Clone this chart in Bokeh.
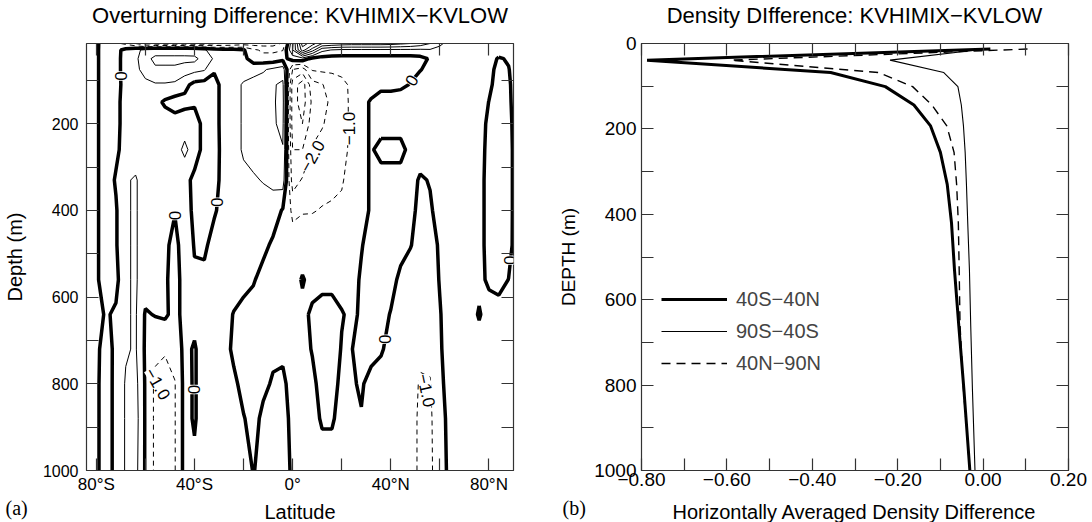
import numpy as np
from bokeh.plotting import figure
from bokeh.layouts import row, column
from bokeh.models import (FixedTicker, LinearAxis, CustomJSTickFormatter, Label, LabelSet,
                          ColumnDataSource, Legend, LegendItem, Range1d)
from bokeh.core.properties import value
from bokeh.embed import file_html
from bokeh.resources import INLINE

# ---------------- panel (a): overturning streamfunction difference ----------------
lat = [-84, -80, -76, -72, -68, -64, -60, -56, -52, -48, -44, -40, -36, -32, -28, -24, -20, -16,
       -12, -8, -4, 0, 4, 8, 12, 16, 20, 24, 28, 32, 36, 40, 44, 48, 52, 56, 60, 64, 68, 72,
       76, 80, 84, 88, 90]
depth = [15, 30, 50, 75, 110, 150, 200, 260, 330, 400, 480, 560, 640, 720, 800, 880, 1000]

psi_diff = [
    # 15 m
    [0.5, 0.2, -0.6, -0.8, -1.2, -2.0, -3.0, -3.5, -3.5, -3.5,
     -3.5, -3.5, -3.5, -3.2, -3.0, -2.8, -2.5, -2.5, -2.5, -2.5,
     -1.8, 1.8, 6.5, 5.5, 4.0, 3.8, 3.6, 3.5, 3.5, 3.5,
     3.5, 3.4, 3.2, 3.0, 2.6, 2.0, 1.2, 0.6, 0.5, 0.4,
     0.4, 0.4, 0.4, 0.4, 0.4],
    # 30 m
    [0.5, 0.15, -0.5, -0.3, 0.3, 0.8, 1.2, 1.4, 1.4, 1.4,
     1.4, 1.3, 1.1, 0.6, 0.4, 0.3, 0.1, -0.8, -1.2, -1.2,
     -1.05, 2.0, 5.5, 3.5, 1.3, 0.95, 0.8, 0.8, 0.8, 0.8,
     0.8, 0.8, 0.8, 0.8, 0.8, 0.9, 0.7, 0.5, 0.5, 0.5,
     0.5, 0.5, 0.5, 0.5, 0.5],
    # 50 m
    [0.5, 0.15, -0.5, -0.3, 0.35, 0.8, 1.6, 2.3, 2.3, 2.3,
     2.3, 2.3, 1.5, 0.9, 0.6, 0.4, 0.3, -0.5, -0.6, -0.6,
     -0.3, 0.4, 0.6, -0.3, -0.4, -0.4, -0.4, -0.4, -0.4, -0.4,
     -0.4, -0.4, -0.4, -0.4, -0.3, 0.1, 0.4, 0.5, 0.5, 0.5,
     0.5, 0.4, -0.1, 0.1, 0.4],
    # 75 m
    [0.5, 0.15, -0.5, -0.3, 0.35, 0.8, 1.3, 1.8, 1.8, 1.8,
     1.5, 1.3, 1.1, 0.1, 0.5, 0.5, 0.6, 0.7, 0.9, 1.2,
     1.5, -2.0, -2.5, -0.9, -0.8, -0.8, -0.7, -0.5, -0.4, -0.4,
     -0.4, -0.4, -0.4, -0.3, -0.05, 0.3, 0.5, 0.5, 0.5, 0.5,
     0.5, 0.3, -0.3, -0.05, 0.3],
    # 110 m
    [0.5, 0.15, -0.5, -0.3, 0.3, 0.5, 0.8, 0.9, 0.9, 0.8,
     0.3, -0.3, -0.4, -0.3, 0.3, 0.7, 1.1, 1.3, 1.4, 1.9,
     2.2, -3.5, -4.5, -2.4, -2.05, -1.6, -1.3, -0.8, -0.5, -0.4,
     -0.3, -0.3, -0.2, 0.05, 0.5, 0.5, 0.5, 0.5, 0.5, 0.5,
     0.5, 0.2, -0.4, -0.2, 0.3],
    # 150 m
    [0.5, 0.15, -0.5, -0.25, 0.35, 0.5, 0.5, 0.3, -0.15, -0.4,
     -0.3, -0.1, -0.3, -0.3, 0.3, 0.7, 1.1, 1.3, 1.5, 1.9,
     2.3, -3.5, -4.5, -2.8, -2.3, -1.8, -1.4, -0.8, -0.3, 0.1,
     0.5, 0.5, 0.5, 0.5, 0.5, 0.5, 0.5, 0.5, 0.5, 0.5,
     0.5, -0.02, -0.4, -0.3, 0.3],
    # 200 m
    [0.5, 0.15, -0.5, -0.25, 0.35, 0.5, 0.5, 0.5, 0.5, 0.4,
     0.6, 0.3, -0.2, -0.3, 0.3, 0.7, 1.1, 1.3, 1.5, 1.9,
     2.2, -3.5, -4.0, -2.5, -2.1, -1.6, -1.4, -0.8, -0.3, 0.1,
     0.4, 0.4, 0.4, 0.5, 0.5, 0.5, 0.5, 0.5, 0.5, 0.5,
     0.4, -0.2, -0.5, -0.4, 0.2],
    # 260 m
    [0.5, 0.15, -0.5, -0.2, 0.4, 0.5, 0.5, 0.5, 0.5, 0.6,
     1.2, 0.6, -0.4, -0.35, 0.3, 0.7, 1.1, 1.3, 1.4, 1.7,
     1.95, -3.0, -3.0, -1.9, -1.6, -1.4, -1.3, -0.8, -0.3, 0.1,
     -0.3, -0.3, -0.3, 0.3, 0.4, 0.5, 0.5, 0.5, 0.5, 0.5,
     0.4, -0.3, -0.5, -0.5, 0.15],
    # 330 m
    [0.5, 0.15, -0.5, 0.1, 0.9, 1.1, 0.5, 0.5, 0.5, 0.5,
     0.4, -0.3, -0.4, -0.3, 0.3, 0.6, 0.8, 0.9, 1.05, 1.2,
     1.5, -2.5, -1.9, -1.5, -1.3, -1.2, -1.1, -0.6, -0.3, 0.1,
     0.4, 0.4, 0.4, 0.3, -0.1, 0.05, 0.4, 0.5, 0.5, 0.5,
     0.3, -0.3, -0.5, -0.5, 0.15],
    # 400 m
    [0.5, 0.15, -0.5, -0.1, 0.9, 1.1, 0.5, 0.5, 0.5, 0.05,
     0.4, -0.2, -0.3, -0.1, 0.3, 0.5, 0.5, 0.5, 0.6, 0.6,
     -0.1, -1.2, -1.05, -1.05, -0.95, -0.9, -0.8, -0.5, -0.3, 0.1,
     0.4, 0.4, 0.4, 0.3, -0.3, -0.1, 0.3, 0.5, 0.5, 0.5,
     0.3, -0.3, -0.5, -0.5, 0.15],
    # 480 m
    [0.5, 0.15, -0.5, -0.1, 0.9, 1.1, 0.5, 0.5, 0.2, -0.3,
     0.5, -0.05, -0.15, 0.3, 0.5, 0.5, 0.5, 0.5, 0.3, -0.2,
     -0.4, -0.6, -0.6, -0.5, -0.5, -0.5, -0.5, -0.4, -0.05, 0.3,
     0.4, 0.4, 0.3, 0.05, -0.4, -0.3, 0.1, 0.5, 0.5, 0.5,
     0.3, -0.3, -0.5, -0.4, 0.15],
    # 560 m
    [0.5, 0.15, -0.5, -0.3, 0.9, 1.1, 0.5, 0.5, 0.15, -0.4,
     0.4, 0.1, 0.2, 0.5, 0.5, 0.5, 0.4, 0.1, -0.4, -0.5,
     -0.5, -0.5, 0.1, -0.4, -0.3, -0.3, -0.3, -0.3, 0.1, 0.4,
     0.4, 0.3, -0.2, -0.5, -0.5, -0.4, 0.05, 0.5, 0.5, 0.5,
     0.3, -0.2, -0.4, 0.02, 0.2],
    # 640 m
    [0.5, 0.3, -0.1, 0.15, 0.9, 1.1, -0.1, 0.05, 0.15, -0.3,
     0.3, 0.3, 0.5, 0.5, 0.4, -0.05, -0.4, -0.5, -0.5, -0.5,
     -0.5, -0.5, -0.3, 0.2, 0.4, 0.4, 0.05, -0.15, 0.1, 0.4,
     0.3, -0.05, -0.4, -0.4, -0.5, -0.5, -0.05, 0.4, 0.5, 0.5,
     -0.1, 0.5, 0.5, 0.5, 0.5],
    # 720 m
    [0.5, 0.15, -0.3, 0.18, 0.9, 1.1, -0.15, -0.8, -0.9, -0.6,
     0.25, -0.1, 0.5, 0.5, 0.4, -0.2, -0.4, -0.4, -0.4, -0.2,
     -0.15, -0.3, -0.3, 0.05, 0.4, 0.4, -0.05, -0.02, 0.2, 0.3,
     0.1, -0.3, -0.4, -0.5, -0.8, -0.8, -0.1, 0.4, 0.5, 0.5,
     0.5, 0.5, 0.5, 0.5, 0.5],
    # 800 m
    [0.5, 0.15, -0.4, 0.25, 1.1, 1.3, -0.1, -1.2, -1.4, -1.05,
     0.3, -0.1, 0.5, 0.5, 0.5, 0.2, -0.3, -0.4, -0.2, 0.1,
     0.15, -0.3, -0.4, -0.2, 0.3, 0.3, -0.2, -0.1, 0.1, -0.3,
     -0.4, -0.4, -0.5, -0.6, -1.1, -1.05, -0.3, 0.5, 0.5, 0.5,
     0.5, 0.5, 0.5, 0.5, 0.5],
    # 880 m
    [0.5, 0.15, -0.4, 0.25, 1.1, 1.4, -0.1, -1.2, -1.4, -1.05,
     0.3, -0.1, 0.5, 0.5, 0.5, 0.4, 0.05, -0.3, 0.2, 0.4,
     0.4, -0.3, -0.4, -0.3, 0.1, 0.1, -0.3, -0.3, -0.05, -0.4,
     -0.4, -0.4, -0.5, -0.6, -1.2, -1.15, -0.4, 0.3, 0.5, 0.5,
     0.5, 0.5, 0.5, 0.5, 0.5],
    # 1000 m
    [0.5, 0.15, -0.4, 0.25, 1.1, 1.3, -0.1, -1.2, -1.4, -1.05,
     0.3, 0.2, 0.5, 0.5, 0.5, 0.5, 0.3, -0.03, 0.2, 0.4,
     0.4, -0.15, -0.4, -0.4, -0.4, -0.4, -0.4, -0.4, -0.4, -0.4,
     -0.4, -0.4, -0.5, -0.6, -1.2, -1.2, -0.4, 0.2, 0.5, 0.5,
     0.5, 0.5, 0.5, 0.5, 0.5],
]
for r in psi_diff:
    assert len(r) == len(lat), len(r)
assert len(psi_diff) == len(depth)

neg_levels = [-6, -5, -4, -3, -2, -1]
zero_level = [0]
pos_levels = [1, 2, 3, 4, 5, 6]

# contour labels (text, latitude, depth, angle in degrees)
clab_text = ["0", "0", "0", "0", "0", "0", "0", "\u22121.0", "\u22122.0", "\u22121.0", "\u22121.0"]
clab_lat = [-69.9, -31.0, -47.8, 48.5, 37.8, -40.2, 88.7, -55.0, 8.0, 22.8, 54.5]
clab_depth = [90, 381, 412, 100, 697, 813, 515, 800, 275, 211, 815]
clab_angle = [90, 90, 90, 60, 90, 90, 90, -60, 61, 90, -78]

lat_ticks = [-80, -60, -40, -20, 0, 20, 40, 60, 80]
lat_tick_labels = ["80\u00b0S", "", "40\u00b0S", "", "0\u00b0", "", "40\u00b0N", "", "80\u00b0N"]
depth_ticks = [100, 200, 300, 400, 500, 600, 700, 800, 900, 1000]
depth_tick_labels = ["", "200", "", "400", "", "600", "", "800", "", "1000"]

# ---------------- panel (b): horizontally averaged density difference ----------------
prof_depth = [13, 39, 68, 101, 144, 193, 255, 330, 420, 530, 660, 810, 1000]
rho_40S_40N = [0.017, -0.787, -0.357, -0.229, -0.162, -0.123, -0.100, -0.084, -0.074, -0.067, -0.057, -0.045, -0.031]
rho_90S_40S = [0.005, -0.218, -0.092, -0.059, -0.051, -0.046, -0.042, -0.039, -0.036, -0.032, -0.029, -0.025, -0.019]
rho_40N_90N = [0.104, -0.590, -0.245, -0.165, -0.120, -0.085, -0.068, -0.062, -0.058, -0.056, -0.054, -0.046, -0.031]
series_names = ["40S\u221240N", "90S\u221240S", "40N\u221290N"]

rho_ticks = [-0.8, -0.7, -0.6, -0.5, -0.4, -0.3, -0.2, -0.1, 0.0, 0.1, 0.2]
rho_tick_labels = ["\u22120.80", "", "\u22120.60", "", "\u22120.40", "", "\u22120.20", "", "0.00", "", "0.20"]
pdepth_ticks = [0, 100, 200, 300, 400, 500, 600, 700, 800, 900, 1000]
pdepth_tick_labels = ["0", "", "200", "", "400", "", "600", "", "800", "", "1000"]

titles = ["Overturning Difference: KVHIMIX\u2212KVLOW", "Density DIfference: KVHIMIX\u2212KVLOW"]
x_titles = ["Latitude", "Horizontally Averaged Density Difference"]
y_titles = ["Depth (m)", "DEPTH (m)"]
panel_tags = ["(a)", "(b)"]

FONT = "Liberation Sans"
AX = "#333333"
EMPTY = CustomJSTickFormatter(code="return '';")
W = 1092
TOP_H = 30
BOT_H = 25


def style_axis(ax, size):
    ax.major_tick_in = 12
    ax.major_tick_out = 0
    ax.minor_tick_in = 0
    ax.minor_tick_out = 0
    ax.axis_line_color = AX
    ax.axis_line_width = 1.2
    ax.major_tick_line_color = AX
    ax.major_tick_line_width = 1.2
    ax.major_label_text_font = FONT
    ax.major_label_text_font_size = size
    ax.major_label_text_color = "black"
    ax.axis_label_text_font = FONT
    ax.axis_label_text_font_style = "normal"
    ax.axis_label_text_color = "black"


def make_fig(xr, yr, left, right):
    p = figure(frame_width=427, frame_height=427, x_range=xr, y_range=yr,
               output_backend="svg", toolbar_location=None, title_location=None,
               min_border_left=left, min_border_right=right,
               min_border_top=13, min_border_bottom=27)
    p.xgrid.visible = False
    p.ygrid.visible = False
    p.outline_line_color = AX
    p.background_fill_color = "white"
    p.border_fill_color = "white"
    return p


def make_strip(h):
    s = figure(width=W, height=h, x_range=Range1d(0, W), y_range=Range1d(0, h),
               output_backend="svg", toolbar_location=None, title_location=None,
               min_border=0, min_border_left=0, min_border_right=0,
               min_border_top=0, min_border_bottom=0)
    s.axis.visible = False
    s.xgrid.visible = False
    s.ygrid.visible = False
    s.outline_line_color = None
    s.background_fill_color = "white"
    s.border_fill_color = "white"
    return s


# ---------- figure (a)
p1 = make_fig(Range1d(-84, 90), Range1d(1000, 15), 86, 33)
z = np.array(psi_diff)
p1.contour(lat, depth, z, levels=neg_levels, line_color="black", line_width=1, line_dash="5 4")
p1.contour(lat, depth, z, levels=pos_levels, line_color="black", line_width=1)
p1.contour(lat, depth, z, levels=zero_level, line_color="black", line_width=3.5)

csrc = ColumnDataSource(dict(x=clab_lat, y=clab_depth, text=clab_text,
                             angle=[np.radians(a) for a in clab_angle]))
p1.add_layout(LabelSet(x="x", y="y", text="text", angle="angle", source=csrc,
                       text_align="center", text_baseline="middle", text_font=value(FONT),
                       text_font_size=value("17px"), text_color="black",
                       background_fill_color="white"))

p1.xaxis.ticker = FixedTicker(ticks=lat_ticks)
p1.xaxis.major_label_overrides = dict(zip(lat_ticks, lat_tick_labels))
p1.yaxis.ticker = FixedTicker(ticks=depth_ticks)
p1.yaxis.major_label_overrides = dict(zip(depth_ticks, depth_tick_labels))
p1.yaxis.axis_label = y_titles[0]
style_axis(p1.xaxis[0], "17px")
style_axis(p1.yaxis[0], "16px")
p1.yaxis.axis_label_text_font_size = "20px"
p1.xaxis.major_label_standoff = 4
p1.yaxis.major_label_standoff = 8
p1.yaxis.axis_label_standoff = 14

top1 = LinearAxis(ticker=FixedTicker(ticks=lat_ticks), formatter=EMPTY)
right1 = LinearAxis(ticker=FixedTicker(ticks=depth_ticks), formatter=EMPTY)
for a in (top1, right1):
    style_axis(a, "8px")
    a.major_label_standoff = 0
p1.add_layout(top1, "above")
p1.add_layout(right1, "right")

# ---------- figure (b)
p2 = make_fig(Range1d(-0.8, 0.2), Range1d(1000, 0), 95, 24)
r_a = p2.line(rho_40S_40N, prof_depth, line_color="black", line_width=3)
r_b = p2.line(rho_90S_40S, prof_depth, line_color="black", line_width=1.1)
r_c = p2.line(rho_40N_90N, prof_depth, line_color="black", line_width=1.4, line_dash="9 6")

legend = Legend(items=[LegendItem(label=series_names[0], renderers=[r_a]),
                       LegendItem(label=series_names[1], renderers=[r_b]),
                       LegendItem(label=series_names[2], renderers=[r_c])],
                location=(20, 95), orientation="vertical", border_line_color=None,
                background_fill_alpha=0, label_text_font=FONT, label_text_font_size="20px",
                glyph_width=66, glyph_height=24, label_height=24, spacing=8, padding=0,
                margin=0, label_standoff=9)
p2.add_layout(legend)

p2.xaxis.ticker = FixedTicker(ticks=rho_ticks)
p2.xaxis.major_label_overrides = dict(zip(rho_ticks, rho_tick_labels))
p2.yaxis.ticker = FixedTicker(ticks=pdepth_ticks)
p2.yaxis.major_label_overrides = dict(zip(pdepth_ticks, pdepth_tick_labels))
p2.yaxis.axis_label = y_titles[1]
style_axis(p2.xaxis[0], "19px")
style_axis(p2.yaxis[0], "19px")
p2.yaxis.axis_label_text_font_size = "19px"
p2.xaxis.major_label_standoff = 2
p2.yaxis.major_label_standoff = 5
p2.yaxis.axis_label_standoff = 12

top2 = LinearAxis(ticker=FixedTicker(ticks=rho_ticks), formatter=EMPTY)
right2 = LinearAxis(ticker=FixedTicker(ticks=pdepth_ticks), formatter=EMPTY)
for a in (top2, right2):
    style_axis(a, "8px")
    a.major_label_standoff = 0
p2.add_layout(top2, "above")
p2.add_layout(right2, "right")

# ---------- title strip and bottom strip (panel titles, x-axis titles, panel tags)
top = make_strip(TOP_H)
for t, cx in zip(titles, [299.5, 854.0]):
    top.add_layout(Label(x=cx, y=15, text=t, text_align="center", text_baseline="middle",
                         text_font=FONT, text_font_size="22px", text_color="black"))

bot = make_strip(BOT_H)
for t, cx in zip(x_titles, [299.5, 854.0]):
    bot.add_layout(Label(x=cx, y=11, text=t, text_align="center", text_baseline="middle",
                         text_font=FONT, text_font_size="20px", text_color="black"))
for t, lx in zip(panel_tags, [5, 562]):
    bot.add_layout(Label(x=lx, y=15, text=t, text_align="left", text_baseline="middle",
                         text_font="Liberation Serif", text_font_size="20px", text_color="black"))

layout = column(top, row(p1, p2), bot)
open("out.html", "w").write(file_html(layout, INLINE))
